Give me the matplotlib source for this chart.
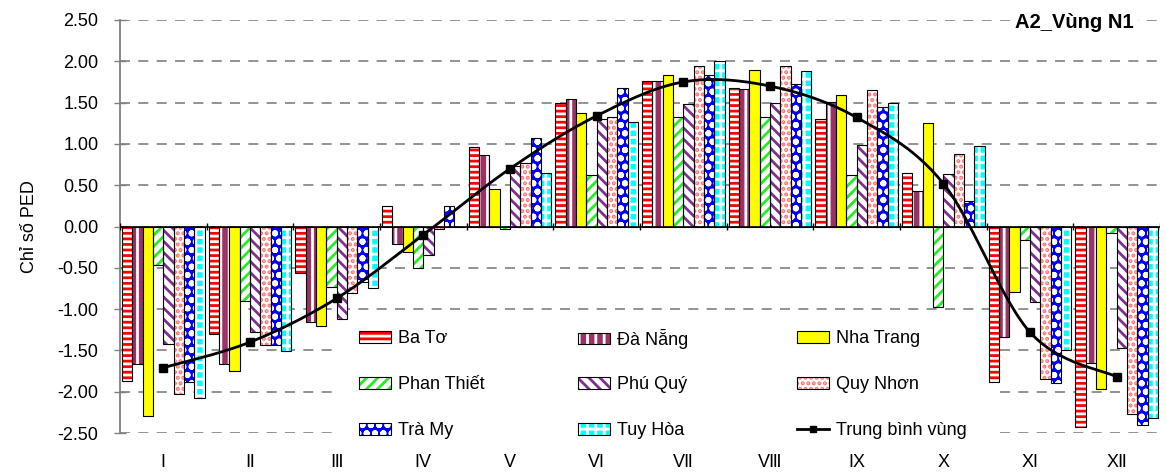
import numpy as np
import matplotlib
matplotlib.use("Agg")
import matplotlib.pyplot as plt
from matplotlib.patches import Patch, Rectangle
from matplotlib.lines import Line2D

plt.rcParams['font.family'] = ['Liberation Sans', 'DejaVu Sans']
plt.rcParams['hatch.linewidth'] = 2.0

# du lieu doc tu hinh
months = ["I", "\u2161", "\u2162", "IV", "V", "VI", "V\u2161", "V\u2162", "IX", "X", "XI", "X\u2161"]
stations = ["Ba Tơ", "Đà Nẵng", "Nha Trang", "Phan Thiết", "Phú Quý", "Quy Nhơn", "Trà My", "Tuy Hòa"]

ba_to      = [-1.87, -1.30, -0.56,  0.25,  0.96, 1.50, 1.76, 1.68, 1.30,  0.65, -1.88, -2.43]
da_nang    = [-1.67, -1.67, -1.16, -0.21,  0.86, 1.54, 1.76, 1.66, 1.51,  0.43, -1.34, -1.65]
nha_trang  = [-2.30, -1.75, -1.21, -0.31,  0.46, 1.38, 1.84, 1.89, 1.59,  1.25, -0.79, -1.97]
phan_thiet = [-0.47, -0.90, -0.73, -0.50, -0.03, 0.62, 1.33, 1.32, 0.62, -0.97, -0.16, -0.08]
phu_quy    = [-1.42, -1.28, -1.12, -0.34,  0.73, 1.30, 1.48, 1.49, 0.99,  0.64, -0.92, -1.47]
quy_nhon   = [-2.03, -1.44, -0.81, -0.03,  0.77, 1.33, 1.94, 1.94, 1.65,  0.88, -1.85, -2.27]
tra_my     = [-1.88, -1.43, -0.67,  0.25,  1.07, 1.68, 1.84, 1.73, 1.45,  0.31, -1.90, -2.40]
tuy_hoa    = [-2.08, -1.51, -0.75,  0.00,  0.65, 1.27, 2.00, 1.88, 1.49,  0.98, -1.50, -2.32]
trung_binh = [-1.71, -1.40, -0.87, -0.10,  0.70, 1.34, 1.75, 1.70, 1.32,  0.52, -1.28, -1.82]

series = [ba_to, da_nang, nha_trang, phan_thiet, phu_quy, quy_nhon, tra_my, tuy_hoa]

# (mau nen, kieu hatch, mau hatch)
styles = [
    ('#FF0000', '---', 'white'),
    ('#993366', '||', 'white'),
    ('#FFFF00', '', 'black'),
    ('white', '///', '#22EE22'),
    ('white', '\\\\\\', '#7F2F8F'),
    ('white', '...', '#FF7070'),
    ('#0000FF', 'oo', 'white'),
    ('#00FFFF', '++', 'white'),
]

FS = 13


def catmull_rom(x, y, n=30):
    # duong cong tron qua cac diem, giong kieu "smoothed line" cua Excel
    p = np.column_stack([x, y]).astype(float)
    p = np.vstack([p[0], p, p[-1]])
    out = []
    for i in range(1, len(p) - 2):
        p0, p1, p2, p3 = p[i - 1], p[i], p[i + 1], p[i + 2]
        b1 = p1 + (p2 - p0) / 6.0
        b2 = p2 - (p3 - p1) / 6.0
        t = np.linspace(0, 1, n)[:, None]
        seg = ((1 - t) ** 3) * p1 + 3 * ((1 - t) ** 2) * t * b1 + 3 * (1 - t) * t ** 2 * b2 + t ** 3 * p2
        out.append(seg if i == 1 else seg[1:])
    out = np.vstack(out)
    return out[:, 0], out[:, 1]


fig = plt.figure(figsize=(11.66, 4.72), dpi=100)
ax = fig.add_axes([120 / 1166, 39 / 472, 1040 / 1166, 413 / 472])

x = np.arange(len(months))
n = len(series)
w = 0.952 / n

for i, (vals, (fc, hatch, hc)) in enumerate(zip(series, styles)):
    pos = x + (i - (n - 1) / 2) * w
    if hatch:
        ax.bar(pos, vals, w, color=fc, hatch=hatch, edgecolor=hc, linewidth=0, zorder=2)
    ax.bar(pos, vals, w, facecolor=fc if not hatch else 'none', edgecolor='black', linewidth=0.8, zorder=3)

xs, ys = catmull_rom(x, trung_binh)
ax.plot(xs, ys, color='black', lw=2.0, zorder=4)
ax.plot(x, trung_binh, ls='none', marker='s', ms=6, color='black', zorder=5)

# truc
ax.set_xlim(-0.5, len(months) - 0.5)
ax.set_ylim(-2.5, 2.5)
ax.set_yticks(np.arange(-2.5, 2.51, 0.5))
ax.yaxis.set_major_formatter(matplotlib.ticker.FormatStrFormatter('%.2f'))
ax.set_xticks(x)
ax.set_xticklabels(months)
ax.tick_params(axis='x', length=0, pad=15, labelsize=FS)
ax.tick_params(axis='y', direction='inout', length=9, width=1, color='#808080', labelsize=FS, pad=11)
for s in ['top', 'right', 'bottom']:
    ax.spines[s].set_visible(False)
ax.spines['left'].set_color('#808080')
ax.spines['left'].set_linewidth(1.3)

ax.set_axisbelow(True)
ax.yaxis.grid(True, color='#808080', linestyle=(0, (6, 5)), linewidth=1.2)
ax.axhline(0, color='black', lw=1.2, zorder=3.5)
ax.vlines(np.arange(len(months) + 1) - 0.5, -0.04, 0.04, color='black', lw=1, zorder=3.5)

ax.set_ylabel('Chỉ số PED', fontsize=FS, labelpad=14)

ax.text(0.9745, 0.995, 'A2_Vùng N1', transform=ax.transAxes, ha='right', va='center',
        fontsize=14.5, fontweight='bold',
        bbox=dict(facecolor='white', edgecolor='none', pad=3))

# nen trang cua khung chu giai (che luoi, nam duoi cot)
ax.add_patch(Rectangle((0.2067, -0.03), 0.633, 0.308, transform=ax.transAxes,
                       facecolor='white', edgecolor='none', zorder=1, clip_on=False))

# chu giai: moi muc mot legend de dat dung cot/dong
handles = []
for (fc, hatch, hc) in styles:
    if hatch:
        handles.append((Patch(facecolor=fc, hatch=hatch, edgecolor=hc, linewidth=0),
                        Patch(facecolor='none', edgecolor='black', linewidth=0.8)))
    else:
        handles.append(Patch(facecolor=fc, edgecolor='black', linewidth=0.8))
handles.append(Line2D([], [], color='black', lw=2, marker='s', ms=5))
labels = stations + ['Trung bình vùng']

col_x = [0.2298, 0.4404, 0.651]
row_y = [0.228, 0.1165, 0.005]
for k in range(len(labels)):
    r, c = divmod(k, 3)
    leg = ax.legend([handles[k]], [labels[k]], loc='center left',
                    bbox_to_anchor=(col_x[c], row_y[r]),
                    frameon=False, fontsize=FS, handlelength=1.77, handleheight=0.6,
                    handletextpad=0.4, borderpad=0, borderaxespad=0)
    leg.set_zorder(6)
    if k < len(labels) - 1:
        ax.add_artist(leg)

fig.savefig('out.png', dpi=100)
